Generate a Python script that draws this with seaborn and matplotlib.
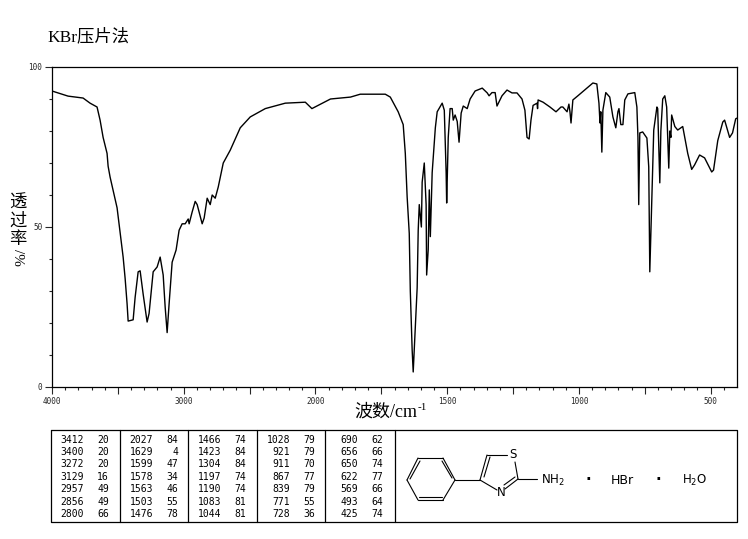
import numpy as np
import pandas as pd
import matplotlib
matplotlib.use('Agg')
import matplotlib.pyplot as plt
import seaborn as sns

wn_1 = [4000, 3954, 3878, 3764, 3711, 3658, 3635, 3612, 3582, 3574, 3559, 3506, 3460, 3445, 3430, 3422, 3384, 3369, 3346, 3331, 3308, 3278, 3263, 3232, 3202, 3179, 3156, 3141, 3126, 3111, 3088, 3058]
tr_1 = [92.5, 91.9, 90.9, 90.3, 88.7, 87.5, 83.4, 78, 73, 69, 65.6, 56, 40.6, 34, 26, 20.6, 21, 28, 36, 36.3, 29, 20.3, 23, 36, 37.5, 40.6, 35, 25, 17, 26, 39, 42.8]
wn_2 = [3035, 3012, 2989, 2966, 2959, 2936, 2913, 2898, 2860, 2845, 2822, 2799, 2784, 2761, 2738, 2700, 2647, 2571, 2495, 2381, 2229, 2077, 2027]
tr_2 = [49, 51, 51, 52.5, 51, 54.7, 58, 57, 51, 52.8, 59, 57, 60, 59, 62.5, 70, 74, 81, 84.4, 87, 88.7, 89, 87]
wn_3 = [1943, 1867, 1830, 1735, 1716, 1686, 1667, 1659, 1652, 1644, 1640, 1633, 1629, 1625, 1614, 1610, 1606, 1598, 1595, 1587, 1580, 1578, 1572, 1568, 1564, 1557, 1545, 1538]
tr_3 = [90, 90.6, 91.5, 91.5, 90.6, 86, 82, 73, 59.4, 48, 30, 11.6, 4.7, 11.6, 31, 49, 57, 50, 64, 70, 57, 35, 43, 61.6, 47, 67, 81, 86]
wn_4 = [1519, 1511, 1504, 1502, 1496, 1489, 1481, 1477, 1470, 1462, 1455, 1447, 1439, 1424, 1413, 1394, 1367, 1348, 1341, 1330, 1318, 1311, 1292, 1273, 1254, 1235, 1216, 1205, 1197, 1189, 1182, 1174, 1159, 1157, 1155]
tr_4 = [88.7, 86.5, 67, 57.5, 78, 87, 87, 83.4, 85, 83, 76.5, 85.6, 87.8, 87, 90, 92.5, 93.4, 91.9, 91, 92, 92, 87.8, 91, 92.8, 91.9, 91.9, 90, 86.5, 78, 77.5, 83.4, 88, 88.7, 87, 89.7]
wn_5 = [1136, 1110, 1087, 1068, 1061, 1045, 1038, 1034, 1030, 1023, 1004, 970, 947, 932, 924, 920, 917, 913, 909, 898, 883, 871, 860, 852, 848, 841, 833, 826, 814]
tr_5 = [89, 87.5, 86, 87.5, 87.5, 86, 88.4, 86, 82.5, 89.7, 91, 93.4, 95, 94.7, 88.7, 82.5, 86, 73.4, 86.5, 92, 90.6, 84.4, 81, 86, 87, 82, 82, 89.7, 91.6]
wn_6 = [788, 780, 776, 773, 769, 758, 742, 735, 731, 723, 716, 704, 701, 693, 689, 682, 674, 667, 659, 655, 651, 648, 636, 625, 606, 587, 572, 561, 542, 523, 496, 489, 473, 454, 447, 428, 417, 405, 401]
tr_6 = [92, 87.5, 78, 57, 79.4, 79.7, 77.8, 68.8, 36, 59.4, 80.3, 87.5, 87, 63.8, 80, 90, 91, 87.5, 68.4, 80, 78, 85, 81.4, 80.3, 81.4, 73, 68, 69.4, 72.5, 71.6, 67.2, 67.8, 77, 82.8, 83.4, 78, 79.4, 83.8, 84]

major_ticks = [4000, 3500, 3000, 2500, 2000, 1750, 1500, 1250, 1000, 750, 500]
major_labels = ['4000', '', '3000', '', '2000', '', '1500', '', '1000', '', '500']
y_ticks = [0, 50, 100]

peaks_a = [3412, 3400, 3272, 3129, 2957, 2856, 2800]
trans_a = [20, 20, 20, 16, 49, 49, 66]
peaks_b = [2027, 1629, 1599, 1578, 1563, 1503, 1476]
trans_b = [84, 4, 47, 34, 46, 55, 78]
peaks_c = [1466, 1423, 1304, 1197, 1190, 1083, 1044]
trans_c = [74, 84, 84, 74, 74, 81, 81]
peaks_d = [1028, 921, 911, 867, 839, 771, 728]
trans_d = [79, 79, 70, 77, 79, 55, 36]
peaks_e = [690, 656, 650, 622, 569, 493, 425]
trans_e = [62, 66, 74, 77, 66, 64, 74]

df = pd.DataFrame({'wn': wn_1 + wn_2 + wn_3 + wn_4 + wn_5 + wn_6,
                   't': tr_1 + tr_2 + tr_3 + tr_4 + tr_5 + tr_6})

sns.set_style('white')
plt.rcParams['font.family'] = ['Liberation Serif', 'Noto Sans CJK SC']
plt.rcParams['mathtext.default'] = 'regular'

W, H = 748, 539
fig = plt.figure(figsize=(W / 100, H / 100), dpi=100)
ax = fig.add_axes([52 / W, 1 - 387 / H, 685 / W, 320 / H])


# el eje cambia de escala en 2000 cm-1 (por debajo, el doble de ancho)
def forward(v):
    v = np.asarray(v, dtype=float)
    return np.where(v >= 2000, v, 2 * v - 2000)


def inverse(u):
    u = np.asarray(u, dtype=float)
    return np.where(u >= 2000, u, (u + 2000) / 2)


ax.set_xscale('function', functions=(forward, inverse))
sns.lineplot(data=df, x='wn', y='t', sort=False, estimator=None, color='black', lw=1.0, ax=ax)
ax.set_xlim(4000, 400)
ax.set_ylim(0, 100)
ax.set_xlabel('')
ax.set_ylabel('')

ax.set_xticks(major_ticks)
ax.set_xticklabels(major_labels, family='DejaVu Sans Mono', fontsize=5.5)
minor_x = [v for v in range(3900, 2000, -100)] + [v for v in range(1950, 400, -50)]
ax.set_xticks(minor_x, minor=True)
ax.set_xticklabels([], minor=True)
ax.set_yticks(y_ticks)
ax.set_yticklabels(y_ticks, family='DejaVu Sans Mono', fontsize=5.5)
ax.set_yticks(range(10, 100, 10), minor=True)
ax.tick_params(axis='x', which='major', direction='out', length=5, width=0.8, pad=2, bottom=True)
ax.tick_params(axis='x', which='minor', direction='out', length=2.5, width=0.8, bottom=True)
ax.tick_params(axis='y', which='major', direction='out', length=5, width=0.8, pad=2, left=True)
ax.tick_params(axis='y', which='minor', direction='out', length=2.5, width=0.8, left=True)
for s in ax.spines.values():
    s.set_color('black')
    s.set_linewidth(0.9)

# capa en pixeles para textos, tabla y estructura
ov = fig.add_axes([0, 0, 1, 1])
ov.set_xlim(0, W)
ov.set_ylim(H, 0)
ov.axis('off')
ov.patch.set_alpha(0)

ov.text(47, 37, 'KBr压片法', fontsize=12.5, ha='left', va='center', color='black')
ov.text(354, 412, '波数/cm', fontsize=13, ha='left', va='center', color='black')
ov.text(418, 407, '-1', fontsize=8, ha='left', va='center', color='black')
ov.text(18, 204, '透', fontsize=12.5, ha='center', va='center', color='black')
ov.text(18, 222, '过', fontsize=12.5, ha='center', va='center', color='black')
ov.text(18, 240, '率', fontsize=12.5, ha='center', va='center', color='black')
ov.text(18, 257, '/%', fontsize=11, ha='center', va='center', rotation=-90, color='black')

# tabla de picos
col_x = [51, 120, 188, 257, 325, 395]
ov.plot([51, 737, 737, 51, 51], [430, 430, 522, 522, 430], color='black', lw=0.9)
for x in col_x[1:]:
    ov.plot([x, x], [430, 522], color='black', lw=0.9)
row_y = [440, 452, 464, 477, 489, 502, 514]
columns = [(peaks_a, trans_a), (peaks_b, trans_b), (peaks_c, trans_c), (peaks_d, trans_d), (peaks_e, trans_e)]
for x0, (pk, tr) in zip(col_x, columns):
    for y, p, t in zip(row_y, pk, tr):
        ov.text(x0 + 33, y, str(p), family='DejaVu Sans Mono', fontsize=7, ha='right', va='center', color='black')
        ov.text(x0 + 58, y, str(t), family='DejaVu Sans Mono', fontsize=7, ha='right', va='center', color='black')

# estructura quimica
bonds = [
    ((407, 480), (418, 458)), ((418, 458), (443, 458)), ((443, 458), (455, 480)),
    ((455, 480), (443, 500)), ((443, 500), (418, 500)), ((418, 500), (407, 480)),
    ((410, 479), (420, 461)), ((442, 461), (452, 478)), ((419, 497), (442, 497)),
    ((455, 480), (480, 480)), ((480, 480), (487, 455)), ((484, 477), (490, 457)),
    ((487, 455), (507, 455)), ((515, 462), (518, 479)), ((518, 479), (505, 489)),
    ((515, 477), (504, 485)), ((497, 490), (480, 480)), ((518, 479), (537, 479)),
]
for a, b in bonds:
    ov.plot([a[0], b[0]], [a[1], b[1]], color='black', lw=0.8)
chem_font = dict(family='DejaVu Sans', fontsize=8.5, va='center', ha='left', color='black')
ov.text(509, 455, 'S', **chem_font)
ov.text(497, 493, 'N', **chem_font)
ov.text(541, 480, 'NH$_2$', **chem_font)
ov.text(586, 480, '·', family='DejaVu Sans', fontsize=11, fontweight='bold', va='center', ha='left', color='black')
ov.text(611, 480, 'HBr', family='DejaVu Sans', fontsize=9, va='center', ha='left', color='black')
ov.text(656, 480, '·', family='DejaVu Sans', fontsize=11, fontweight='bold', va='center', ha='left', color='black')
ov.text(682, 480, 'H$_2$O', **chem_font)

fig.savefig('out.png', dpi=100, facecolor='white')
